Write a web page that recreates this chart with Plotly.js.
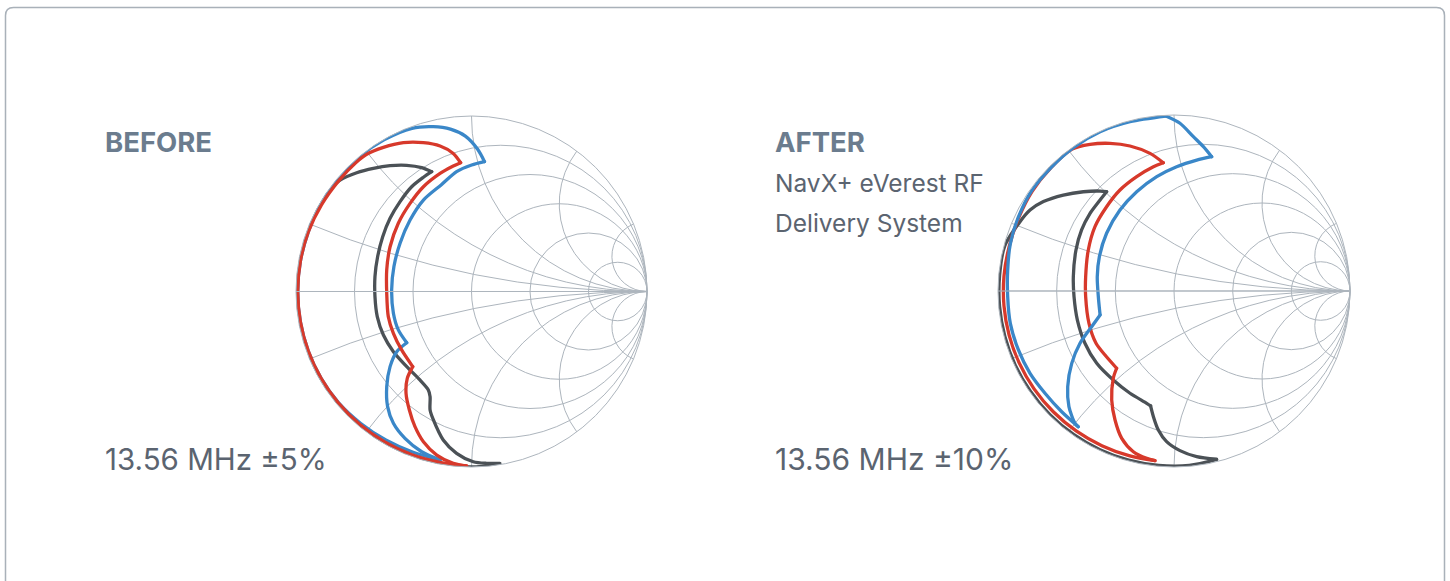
<!DOCTYPE html>
<html><head><meta charset="utf-8">
<script src="https://cdn.plot.ly/plotly-3.0.1.min.js"></script>
<style>html,body{margin:0;padding:0;background:#fff;overflow:hidden}#chart{width:1450px;height:581px}
#chart .scatterlayer .js-line{stroke-linecap:round;stroke-linejoin:round}</style>
</head><body><div id="chart"></div>
<script>
// Smith chart grid values
const realTicks = [0.2, 0.5, 1, 2, 5];
const imagTicks = [-5, -2, -1, -0.5, -0.2, 0, 0.2, 0.5, 1, 2, 5];

// Reflection coefficient (S11) readings, real / imaginary parts, per curve
// BEFORE, 13.56 MHz ±5%
const beforeGrayRe = [0.16,0,-0.174,-0.342,-0.5,-0.643,-0.766,-0.866,-0.94,-0.985,-1,-0.985,-0.94,-0.866,-0.82,
  -0.749,-0.654,-0.559,-0.464,-0.369,-0.284,-0.227,
  -0.274,-0.341,-0.407,-0.464,-0.506,-0.535,-0.55,-0.55,-0.537,-0.502,-0.445,-0.369,-0.294,-0.246,-0.236,-0.236,-0.217,-0.161,-0.085,0.01,0.086,0.162];
const beforeGrayIm = [-0.985,-1,-0.985,-0.94,-0.866,-0.766,-0.643,-0.5,-0.342,-0.174,0,0.174,0.342,0.5,0.572,
  0.635,0.677,0.702,0.717,0.719,0.706,0.683,
  0.651,0.597,0.512,0.417,0.312,0.198,0.085,-0.029,-0.143,-0.248,-0.343,-0.428,-0.504,-0.561,-0.599,-0.675,-0.732,-0.846,-0.922,-0.97,-0.979,-0.979];

const beforeRedRe = [-0.028,-0.172,-0.339,-0.495,-0.636,-0.758,-0.857,-0.93,-0.975,-0.99,-0.975,-0.93,-0.855,-0.755,-0.66,
  -0.6,-0.502,-0.388,-0.274,-0.179,-0.104,-0.062,
  -0.104,-0.179,-0.274,-0.35,-0.417,-0.464,-0.483,-0.483,-0.474,-0.445,-0.398,-0.335,-0.366,-0.373,-0.354,-0.322,-0.274,-0.198,-0.104,-0.028];
const beforeRedIm = [-0.994,-0.975,-0.93,-0.857,-0.758,-0.636,-0.495,-0.339,-0.172,0,0.172,0.339,0.4935,0.633,0.733,
  0.78,0.821,0.848,0.848,0.829,0.787,0.734,
  0.715,0.673,0.597,0.502,0.389,0.255,0.123,-0.01,-0.143,-0.238,-0.333,-0.428,-0.495,-0.58,-0.675,-0.77,-0.856,-0.932,-0.979,-0.994];

const beforeBlueRe = [-0.179,-0.333,-0.4885,-0.631,-0.757,-0.857,-0.93,-0.975,-0.99,-0.975,-0.93,-0.863,-0.766,-0.643,-0.499,-0.339,
  -0.218,-0.12,-0.035,0.035,0.074,
  0.001,-0.085,-0.17,-0.274,-0.35,-0.407,-0.442,-0.455,-0.445,-0.417,-0.369,-0.426,-0.464,-0.483,-0.478,-0.445,-0.379,-0.284,-0.179];
const beforeBlueIm = [-0.96,-0.916,-0.846,-0.752,-0.635,-0.495,-0.339,-0.172,0,0.172,0.339,0.4985,0.643,0.766,0.864,0.93,
  0.939,0.925,0.885,0.81,0.74,
  0.721,0.683,0.61,0.521,0.407,0.275,0.142,0.009,-0.124,-0.219,-0.292,-0.343,-0.428,-0.542,-0.656,-0.751,-0.837,-0.913,-0.96];

// AFTER, NavX+ eVerest RF Delivery System, 13.56 MHz ±10%
const afterGrayRe = [0.242,0.087,-0.087,-0.258,-0.421,-0.571,-0.704,-0.815,-0.902,-0.961,-0.991,-0.991,-0.961,
  -0.875,-0.818,-0.742,-0.629,-0.515,-0.42,-0.383,
  -0.42,-0.477,-0.525,-0.557,-0.572,-0.568,-0.549,-0.506,-0.439,-0.345,-0.25,-0.155,-0.133,-0.117,-0.089,-0.042,0.034,0.129,0.242];
const afterGrayIm = [-0.958,-0.991,-0.991,-0.961,-0.902,-0.815,-0.704,-0.571,-0.421,-0.258,-0.087,0.087,0.258,
  0.394,0.46,0.508,0.545,0.564,0.568,0.564,
  0.517,0.441,0.347,0.233,0.081,-0.032,-0.165,-0.297,-0.411,-0.506,-0.581,-0.638,-0.653,-0.714,-0.79,-0.856,-0.907,-0.941,-0.956];

const afterRedRe = [-0.108,-0.251,-0.41,-0.556,-0.686,-0.795,-0.879,-0.937,-0.966,-0.966,-0.937,-0.884,-0.807,-0.7,
  -0.581,-0.477,-0.364,-0.25,-0.136,-0.061,
  -0.117,-0.212,-0.307,-0.383,-0.449,-0.487,-0.502,-0.502,-0.483,-0.443,-0.392,-0.326,-0.345,-0.354,-0.335,-0.297,-0.231,-0.155,-0.108];
const afterRedIm = [-0.964,-0.937,-0.879,-0.795,-0.686,-0.556,-0.41,-0.251,-0.085,0.085,0.251,0.412,0.565,0.7,
  0.805,0.833,0.839,0.824,0.782,0.729,
  0.706,0.65,0.574,0.479,0.366,0.233,0.081,-0.032,-0.184,-0.297,-0.364,-0.439,-0.496,-0.619,-0.733,-0.837,-0.913,-0.951,-0.964];

const afterBlueRe = [-0.544,-0.5625,-0.597,-0.604,-0.581,-0.534,-0.468,-0.42,-0.43,-0.436,-0.424,-0.383,-0.307,-0.212,-0.098,0.015,0.129,0.214,
  0.167,0.11,0.034,-0.046,
  -0.25,-0.42,-0.572,-0.7,-0.81,-0.885,-0.93,-0.945,-0.945,-0.93,-0.884,-0.818,-0.733,-0.638,-0.544];
const afterBlueIm = [-0.771,-0.752,-0.657,-0.544,-0.411,-0.297,-0.203,-0.136,-0.032,0.081,0.195,0.328,0.46,0.564,0.65,0.706,0.744,0.763,
  0.82,0.877,0.953,0.994,
  0.962,0.905,0.815,0.7,0.568,0.418,0.268,0.119,-0.032,-0.184,-0.335,-0.468,-0.581,-0.686,-0.771];

const colors = {gray: '#4b5156', red: '#d7392b', blue: '#3a87c8'};
const gridColor = '#adb5bd';
const W = 1450, H = 581;

// convert reflection coefficient to normalized impedance z = (1+G)/(1-G)
function toZ(re, im) {
  const real = [], imag = [];
  for (let i = 0; i < re.length; i++) {
    const a = re[i], b = im[i];
    const d = (1 - a) * (1 - a) + b * b;
    real.push((1 - a * a - b * b) / d);
    imag.push(2 * b / d);
  }
  return {real, imag};
}
// split a curve at its sharp corners so that each smooth stretch can be drawn as a spline
function cornerBreaks(re, im) {
  const br = [0];
  for (let i = 1; i < re.length - 1; i++) {
    const ax = re[i] - re[i - 1], ay = im[i] - im[i - 1];
    const bx = re[i + 1] - re[i], by = im[i + 1] - im[i];
    const c = (ax * bx + ay * by) / (Math.hypot(ax, ay) * Math.hypot(bx, by));
    if (Math.acos(Math.max(-1, Math.min(1, c))) > 0.62) br.push(i);
  }
  br.push(re.length - 1);
  return br;
}
function traces(re, im, color, subplot) {
  const z = toZ(re, im);
  const br = cornerBreaks(re, im);
  const out = [];
  for (let k = 0; k < br.length - 1; k++) {
    const s = br[k], e = br[k + 1] + 1;
    out.push({type: 'scattersmith', real: z.real.slice(s, e), imag: z.imag.slice(s, e), mode: 'lines',
      subplot: subplot, cliponaxis: false, hoverinfo: 'skip', showlegend: false,
      line: {color: color, width: 3.3, shape: 'spline', smoothing: 0.8}});
  }
  return out;
}
const data = [].concat(
  traces(beforeGrayRe, beforeGrayIm, colors.gray, 'smith'),
  traces(beforeBlueRe, beforeBlueIm, colors.blue, 'smith'),
  traces(beforeRedRe, beforeRedIm, colors.red, 'smith'),
  traces(afterGrayRe, afterGrayIm, colors.gray, 'smith2'),
  traces(afterRedRe, afterRedIm, colors.red, 'smith2'),
  traces(afterBlueRe, afterBlueIm, colors.blue, 'smith2')
);

function smithLayout(cx, cy, R) {
  const ax = {showticklabels: false, ticks: '', gridcolor: gridColor, gridwidth: 1,
    showline: true, linecolor: gridColor, linewidth: 1};
  return {
    domain: {x: [(cx - R) / W, (cx + R) / W], y: [(H - cy - R) / H, (H - cy + R) / H]},
    bgcolor: 'rgba(0,0,0,0)',
    realaxis: Object.assign({}, ax, {tickvals: realTicks}),
    imaginaryaxis: Object.assign({}, ax, {tickvals: imagTicks})
  };
}
const px = x => x / W, py = y => 1 - y / H;
const font = 'Inter, "Open Sans", sans-serif';
const headColor = '#6b7c8e', textColor = '#5b6470';
function ann(text, x, y, size, color, weight) {
  return {text: text, xref: 'paper', yref: 'paper', x: px(x), y: py(y), xanchor: 'left', yanchor: 'middle',
    showarrow: false, font: {family: font, size: size, color: color, weight: weight || 400}};
}
const r = 8;
const framePath = `M ${px(5.5)} ${py(640)} L ${px(5.5)} ${py(7.5 + r)} Q ${px(5.5)} ${py(7.5)} ${px(5.5 + r)} ${py(7.5)} L ${px(1444.5 - r)} ${py(7.5)} Q ${px(1444.5)} ${py(7.5)} ${px(1444.5)} ${py(7.5 + r)} L ${px(1444.5)} ${py(640)}`;

const layout = {
  width: W, height: H, margin: {l: 0, r: 0, t: 0, b: 0},
  paper_bgcolor: '#ffffff', showlegend: false,
  smith: smithLayout(471.5, 291.5, 175.5),
  smith2: smithLayout(1174, 291, 176),
  annotations: [
    ann('BEFORE', 103, 141.5, 27.5, headColor, 700),
    ann('13.56 MHz ±5%', 103, 458.5, 29.5, textColor),
    ann('AFTER', 773, 141.5, 27.5, headColor, 700),
    ann('NavX+ eVerest RF', 773, 183, 24.5, textColor),
    ann('Delivery System', 773, 222.5, 24.5, textColor),
    ann('13.56 MHz ±10%', 773, 458.5, 30, textColor)
  ],
  shapes: [{type: 'path', xref: 'paper', yref: 'paper', path: framePath, line: {color: '#a9b1b9', width: 1.5}}]
};
Plotly.newPlot('chart', data, layout, {displayModeBar: false, staticPlot: true});
</script>
</body></html>
